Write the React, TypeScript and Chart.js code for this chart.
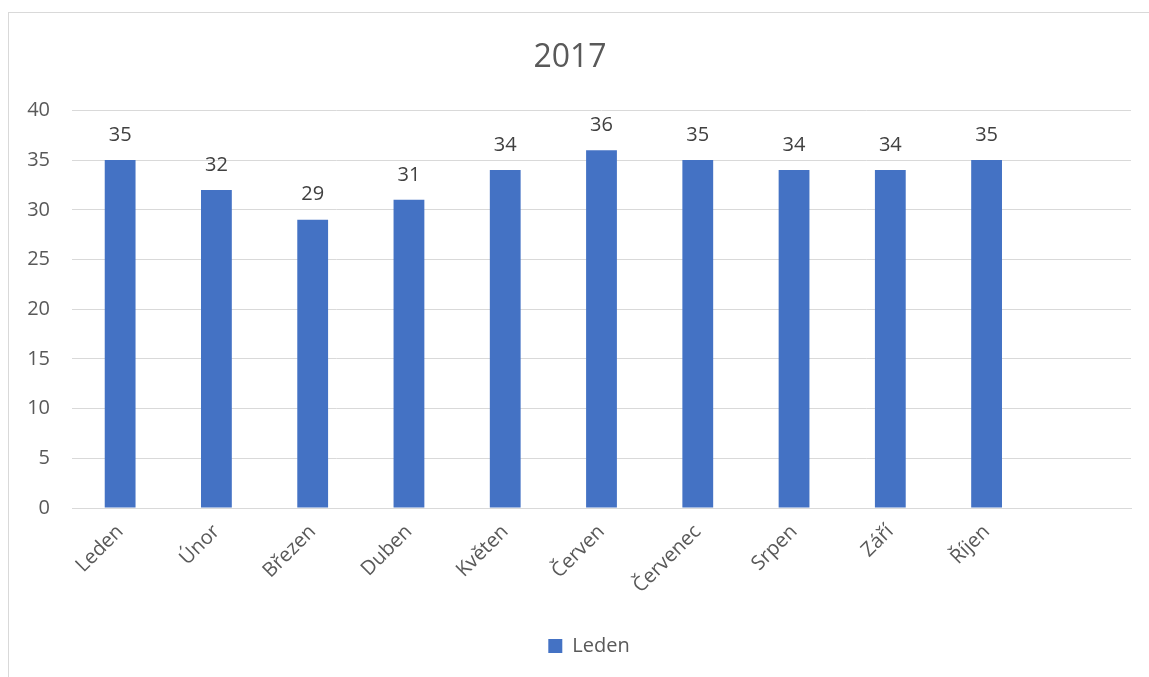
import React, { useEffect, useRef } from "react";
import { Chart, registerables } from "chart.js";

Chart.register(...registerables);

const categories = ["Leden", "Únor", "Březen", "Duben", "Květen", "Červen", "Červenec", "Srpen", "Září", "Říjen", ""];
const values: (number | null)[] = [35, 32, 29, 31, 34, 36, 35, 34, 34, 35, null];
const seriesName = "Leden";
const chartTitle = "2017";
const yMin = 0;
const yMax = 40;
const yStep = 5;

const FONT = "'Open Sans', 'Noto Sans', sans-serif";

const valueLabels = {
  id: "valueLabels",
  afterLayout(chart: any) {
    if (chart.legend) {
      chart.legend.left += 19;
      chart.legend.right += 19;
    }
  },
  afterDatasetsDraw(chart: any) {
    const ctx = chart.ctx;
    const meta = chart.getDatasetMeta(0);
    ctx.save();
    ctx.font = `20px ${FONT}`;
    ctx.fillStyle = "#404040";
    ctx.textAlign = "center";
    ctx.textBaseline = "middle";
    meta.data.forEach((el: any, i: number) => {
      const v = chart.data.datasets[0].data[i];
      if (v === null || v === undefined) return;
      ctx.fillText(String(v), el.x, el.y - 25);
    });
    ctx.restore();
  },
};

export default function App() {
  const ref = useRef<HTMLCanvasElement | null>(null);
  useEffect(() => {
    if (!ref.current) return;
    const chart = new Chart(ref.current, {
      type: "bar",
      data: {
        labels: categories,
        datasets: [
          {
            label: seriesName,
            data: values,
            backgroundColor: "#4472c4",
            categoryPercentage: 1,
            barPercentage: 0.32,
          },
        ],
      },
      options: {
        animation: false,
        responsive: false,
        layout: { padding: { top: 0, right: 18, bottom: 11, left: 0 } },
        plugins: {
          title: {
            display: true,
            text: chartTitle,
            color: "#595959",
            font: { family: FONT, size: 32, weight: "normal" },
            padding: { top: 26, bottom: 33 },
          },
          legend: {
            position: "bottom",
            labels: {
              color: "#595959",
              font: { family: FONT, size: 20 },
              boxWidth: 14,
              boxHeight: 14,
              padding: 10,
            },
          },
          tooltip: { enabled: false },
        },
        scales: {
          x: {
            grid: { display: false },
            border: { color: "#d9d9d9" },
            ticks: {
              color: "#595959",
              font: { family: FONT, size: 20 },
              minRotation: 45,
              maxRotation: 45,
              autoSkip: false,
              padding: 4,
            },
            afterFit(scale: any) {
              scale.height = 118;
            },
          },
          y: {
            min: yMin,
            max: yMax,
            grid: { color: "#d9d9d9", drawTicks: false },
            border: { display: false },
            ticks: {
              stepSize: yStep,
              color: "#595959",
              font: { family: FONT, size: 20 },
              padding: 22,
            },
            afterFit(scale: any) {
              scale.width = 63;
            },
          },
        },
      },
      plugins: [valueLabels],
    });
    return () => chart.destroy();
  }, []);

  return (
    <div
      style={{
        position: "absolute",
        left: 8,
        top: 12,
        width: 1141,
        height: 665,
        borderTop: "1px solid #d9d9d9",
        borderLeft: "1px solid #d9d9d9",
        overflow: "hidden",
        background: "#fff",
      }}
    >
      <canvas ref={ref} width={1140} height={664} style={{ display: "block" }} />
    </div>
  );
}
